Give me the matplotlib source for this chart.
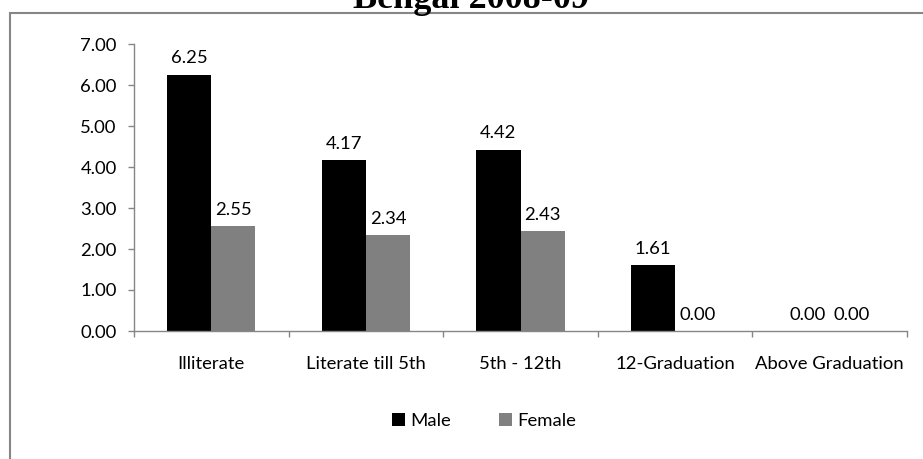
import numpy as np
import matplotlib; matplotlib.use("Agg")
import matplotlib.pyplot as plt
from matplotlib.patches import Rectangle
plt.rcParams.update({"font.family": ["Lato", "DejaVu Sans"]})

categories = ["Illiterate", "Literate till 5th", "5th - 12th", "12-Graduation", "Above Graduation"]
male = [6.25, 4.17, 4.42, 1.61, 0.00]
female = [2.55, 2.34, 2.43, 0.00, 0.00]
title = "Bengal 2008-09"
BLACK, GREY, AXC = "#000000", "#808080", "#868686"
FS = 13.3

W, H = 923, 459
fig = plt.figure(figsize=(W / 100, H / 100), dpi=100)
ax = fig.add_axes([134 / W, 1 - 331 / H, (907 - 134) / W, (331 - 44) / H])

x = np.arange(len(categories)); bw = 0.285
bm = ax.bar(x - bw / 2, male, bw, color=BLACK, label="Male")
bf = ax.bar(x + bw / 2, female, bw, color=GREY, label="Female")
for bars, vals in [(bm, male), (bf, female)]:
    for b, v in zip(bars, vals):
        ax.annotate(f"{v:.2f}", (b.get_x() + b.get_width() / 2, v), xytext=(0, 6), textcoords="offset points",
                    ha="center", va="bottom", fontsize=FS, color="#000000")

ax.set_xlim(-0.5, len(categories) - 0.5); ax.set_ylim(0, 7)
ax.set_yticks(np.arange(0, 8, 1)); ax.set_yticklabels([f"{v:.2f}" for v in range(8)])
ax.set_xticks(np.arange(-0.5, len(categories), 1)); ax.set_xticklabels([])
ax.set_xticks(x, minor=True); ax.set_xticklabels(categories, minor=True)
ax.tick_params(axis="y", length=4.5, width=1, color=AXC, pad=8, labelsize=FS)
ax.tick_params(axis="x", which="major", length=4.5, width=1, color=AXC, direction="out")
ax.tick_params(axis="x", which="minor", length=0, pad=18, labelsize=FS)
for s in ["top", "right"]:
    ax.spines[s].set_visible(False)
for s in ["left", "bottom"]:
    ax.spines[s].set_color(AXC); ax.spines[s].set_linewidth(1)

fig.legend(handles=[bm, bf], labels=["Male", "Female"], loc="center", bbox_to_anchor=(484 / W, 1 - 421 / H),
           ncol=2, frameon=False, fontsize=FS, handlelength=0.7, handleheight=0.7, handletextpad=0.3,
           columnspacing=2.6)

fig.text(471 / W, 1 - 8 / H, title, ha="center", va="baseline", fontsize=26, fontweight="bold",
         family="Liberation Serif")
fig.add_artist(Rectangle((9.5 / W, -0.2), 1.2, 1.2 - 13.5 / H, transform=fig.transFigure, fill=False,
                         edgecolor=AXC, linewidth=1.5))

fig.savefig("out.png", dpi=100, facecolor="white")
